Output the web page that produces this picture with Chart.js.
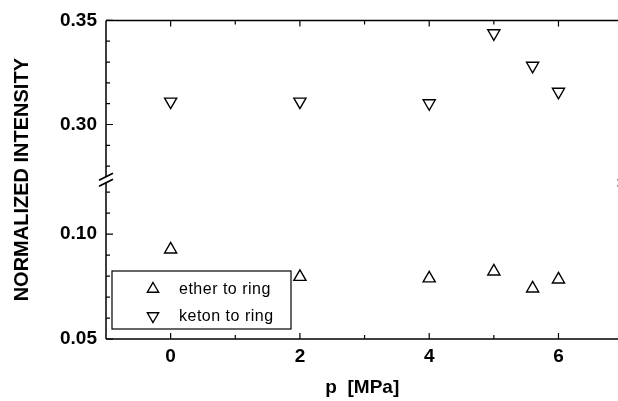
<!DOCTYPE html>
<html>
<head>
<meta charset="utf-8">
<script src="https://cdn.jsdelivr.net/npm/chart.js@4/dist/chart.umd.min.js"></script>
<style>
html, body { margin: 0; padding: 0; background: #fff; }
#marcoGrafico { width: 618px; height: 401px; overflow: hidden; }
</style>
</head>
<body>
<div id="marcoGrafico"><canvas id="grafico" width="627" height="401"></canvas></div>
<script>
// datos
const presiones = [0, 2, 4, 5, 5.6, 6];
const eterAnillo = [0.0927, 0.0796, 0.0789, 0.0822, 0.0741, 0.0784];
const cetonaAnillo = [0.311, 0.311, 0.3102, 0.3438, 0.3282, 0.3157];
const nombresSeries = ["ether to ring", "keton to ring"];

const xMayores = [0, 2, 4, 6];
const xMenores = [1, 3, 5];
const yMayores = [0.05, 0.10, 0.30, 0.35];
const yMenores = [0.06, 0.07, 0.08, 0.09, 0.11, 0.12, 0.28, 0.29, 0.31, 0.32, 0.33, 0.34];

// eje cortado: parte baja 0.05-0.12, parte alta 0.28-0.35
function aEje(v) {
  if (v < 0.2) return (v - 0.05) / 0.05 * 0.9875;
  return 2.02 + (v - 0.30) / 0.05 * 0.98;
}

const fuente = "'Liberation Sans', Arial, sans-serif";

const marco = {
  id: "marco",
  afterDraw(chart) {
    const ctx = chart.ctx;
    const sx = chart.scales.x;
    const sy = chart.scales.y;
    const a = chart.chartArea;
    const yCorte = sy.getPixelForValue(1.5);
    ctx.save();
    ctx.strokeStyle = "#000";
    ctx.lineWidth = 1.5;
    ctx.beginPath();
    ctx.moveTo(a.left, a.top); ctx.lineTo(a.right + 9, a.top);
    ctx.moveTo(a.left, a.bottom); ctx.lineTo(a.right + 9, a.bottom);
    ctx.moveTo(a.left, a.top); ctx.lineTo(a.left, yCorte - 3);
    ctx.moveTo(a.left, yCorte + 3); ctx.lineTo(a.left, a.bottom);
    ctx.stroke();

    // marcas de corte
    ctx.lineWidth = 1.8;
    ctx.beginPath();
    [a.left, a.right + 6].forEach(xc => {
      [-3, 3].forEach(d => {
        ctx.moveTo(xc - 7, yCorte + d + 3.5);
        ctx.lineTo(xc + 7, yCorte + d - 3.5);
      });
    });
    ctx.stroke();

    // ticks hacia adentro
    ctx.lineWidth = 1.2;
    ctx.beginPath();
    yMayores.forEach(v => {
      const p = sy.getPixelForValue(aEje(v));
      ctx.moveTo(a.left, p); ctx.lineTo(a.left + 7, p);
    });
    yMenores.forEach(v => {
      const p = sy.getPixelForValue(aEje(v));
      ctx.moveTo(a.left, p); ctx.lineTo(a.left + 4, p);
    });
    xMayores.forEach(v => {
      const p = sx.getPixelForValue(v);
      ctx.moveTo(p, a.bottom); ctx.lineTo(p, a.bottom - 6);
      ctx.moveTo(p, a.top); ctx.lineTo(p, a.top + 6);
    });
    xMenores.forEach(v => {
      const p = sx.getPixelForValue(v);
      ctx.moveTo(p, a.bottom); ctx.lineTo(p, a.bottom - 4);
      ctx.moveTo(p, a.top); ctx.lineTo(p, a.top + 4);
    });
    ctx.stroke();

    // leyenda
    const lx = 112, ly = 271, lw = 179, lh = 58;
    ctx.lineWidth = 1.2;
    ctx.strokeRect(lx, ly, lw, lh);
    ctx.fillStyle = "#000";
    ctx.font = "16px " + fuente;
    ctx.letterSpacing = "0.5px";
    ctx.textBaseline = "middle";
    ctx.textAlign = "left";
    nombresSeries.forEach((nombre, i) => {
      const cy = ly + 18 + i * 27;
      const cx = 153;
      const r = 6.5;
      const s = i === 0 ? 1 : -1;
      ctx.beginPath();
      ctx.moveTo(cx, cy - s * r);
      ctx.lineTo(cx + r * 0.87, cy + s * r * 0.5);
      ctx.lineTo(cx - r * 0.87, cy + s * r * 0.5);
      ctx.closePath();
      ctx.lineWidth = 1.4;
      ctx.stroke();
      ctx.fillText(nombre, 179, cy + 1);
    });
    ctx.restore();
  }
};

const ctx = document.getElementById("grafico").getContext("2d");

new Chart(ctx, {
  type: "scatter",
  data: {
    datasets: [{
      label: nombresSeries[0],
      data: presiones.map((p, i) => ({ x: p, y: aEje(eterAnillo[i]) })),
      pointStyle: "triangle",
      pointRadius: 7,
      pointBorderWidth: 1.4,
      borderColor: "#000",
      backgroundColor: "rgba(0,0,0,0)"
    }, {
      label: nombresSeries[1],
      data: presiones.map((p, i) => ({ x: p, y: aEje(cetonaAnillo[i]) })),
      pointStyle: "triangle",
      pointRotation: 180,
      pointRadius: 7,
      pointBorderWidth: 1.4,
      borderColor: "#000",
      backgroundColor: "rgba(0,0,0,0)"
    }]
  },
  options: {
    responsive: false,
    animation: false,
    devicePixelRatio: 1,
    layout: { padding: { left: 0, top: 20, right: 0, bottom: 0 } },
    plugins: {
      legend: { display: false },
      tooltip: { enabled: false }
    },
    scales: {
      x: {
        type: "linear",
        min: -1,
        max: 6.93,
        grid: { display: false, drawTicks: false },
        border: { display: false },
        afterBuildTicks: s => { s.ticks = xMayores.map(v => ({ value: v })); },
        afterFit: s => { s.height = 62; },
        ticks: {
          padding: 6,
          color: "#000",
          font: { family: fuente, size: 19, weight: "bold" }
        },
        title: {
          display: true,
          text: "p  [MPa]",
          color: "#000",
          font: { family: fuente, size: 19, weight: "bold" },
          padding: { top: 0, bottom: 2 }
        }
      },
      y: {
        type: "linear",
        min: 0,
        max: 3,
        grid: { display: false, drawTicks: false },
        border: { display: false },
        afterBuildTicks: s => { s.ticks = yMayores.map(v => ({ value: aEje(v) })); },
        afterFit: s => { s.width = 106; },
        ticks: {
          padding: 9,
          color: "#000",
          font: { family: fuente, size: 19, weight: "bold" },
          callback: (v, i) => yMayores[i].toFixed(2)
        },
        title: {
          display: true,
          text: "NORMALIZED INTENSITY",
          color: "#000",
          font: { family: fuente, size: 20, weight: "bold" },
          padding: { top: 10, bottom: 0 }
        }
      }
    }
  },
  plugins: [marco]
});
</script>
</body>
</html>
